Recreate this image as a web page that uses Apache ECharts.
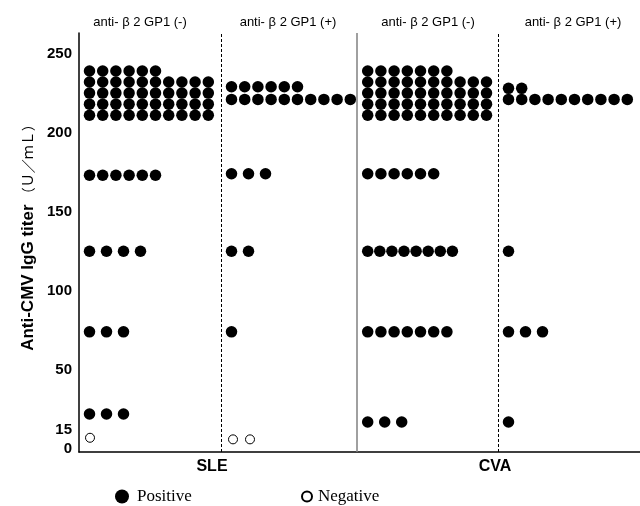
<!DOCTYPE html>
<html><head><meta charset="utf-8">
<script src="https://cdn.jsdelivr.net/npm/echarts@6/dist/echarts.min.js"></script>
<style>html,body{margin:0;padding:0;background:#fff}#c{width:640px;height:506px}</style>
</head><body><div id="c"></div>
<script>
// ---------- data ----------
const yTickValues = [0, 15, 50, 100, 150, 200, 250];
const diseaseLabels = ['SLE', 'CVA'];
const groupLabels = ['anti- β 2 GP1 (-)', 'anti- β 2 GP1 (+)', 'anti- β 2 GP1 (-)', 'anti- β 2 GP1 (+)'];
const legendLabels = ['Positive', 'Negative'];
const yTitle = 'Anti-CMV IgG titer';
const yUnit = '（Ｕ／ｍＬ）';

// positive patients: titer level of each row and number of dots in it
const sleB2negTiters = [239, 232, 225, 218, 211, 173, 125, 74, 22];
const sleB2negCounts = [6, 10, 10, 10, 10, 6, 4, 3, 3];
const sleB2posTiters = [229, 221, 174, 125, 74];
const sleB2posCounts = [6, 10, 3, 2, 1];
const cvaB2negTiters = [239, 232, 225, 218, 211, 174, 125, 74, 17];
const cvaB2negCounts = [7, 10, 10, 10, 10, 6, 8, 7, 3];
const cvaB2posTiters = [228, 221, 125, 74, 17];
const cvaB2posCounts = [2, 10, 1, 3, 1];

// negative patients
const sleB2negNegTiters = [7];
const sleB2negNegCounts = [1];
const sleB2posNegTiters = [6];
const sleB2posNegCounts = [2];

// ---------- layout ----------
const X_MAX = 561;
const groupStart = [10.5, 152.5, 288.7, 429.5];
const dividers = [142, 278, 419];
function stepFor(titer, count) {
  if (titer > 200) return 13.2;
  if (count >= 8) return 12.1;
  if (count >= 5) return 13.2;
  return 17;
}
function buildPoints(start, titers, counts) {
  const pts = [];
  titers.forEach((t, r) => {
    const n = counts[r];
    const s = stepFor(t, n);
    for (let i = 0; i < n; i++) pts.push([start + i * s, t]);
  });
  return pts;
}
const positivePts = [].concat(
  buildPoints(groupStart[0], sleB2negTiters, sleB2negCounts),
  buildPoints(groupStart[1], sleB2posTiters, sleB2posCounts),
  buildPoints(groupStart[2], cvaB2negTiters, cvaB2negCounts),
  buildPoints(groupStart[3], cvaB2posTiters, cvaB2posCounts)
);
const negativePts = [].concat(
  buildPoints(groupStart[0] + 0.5, sleB2negNegTiters, sleB2negNegCounts),
  buildPoints(groupStart[1] + 1.5, sleB2posNegTiters, sleB2posNegCounts)
);

const sans = "'Liberation Sans', Arial, sans-serif";
const serif = "'Liberation Serif', 'Times New Roman', serif";
const headerX = [140, 288, 428, 573];
const diseaseX = [212, 495];

const chart = echarts.init(document.getElementById('c'), null, {renderer: 'canvas'});
chart.setOption({
  animation: false,
  backgroundColor: '#fff',
  grid: {left: 79, right: 0, top: 33, bottom: 54},
  xAxis: {
    type: 'value', min: 0, max: X_MAX,
    axisLine: {show: true, onZero: false, lineStyle: {color: '#000', width: 1.5}},
    axisTick: {show: false}, axisLabel: {show: false}, splitLine: {show: false}
  },
  yAxis: {
    type: 'value', min: -2, max: 263,
    axisLine: {show: true, onZero: false, lineStyle: {color: '#000', width: 1.5}},
    axisTick: {show: false}, splitLine: {show: false},
    axisLabel: {
      customValues: yTickValues,
      color: '#000', fontFamily: sans, fontWeight: 'bold', fontSize: 15, margin: 7,
      formatter: v => v === 15 ? '{low|15}' : String(v),
      rich: {low: {fontFamily: sans, fontWeight: 'bold', fontSize: 15, color: '#000', padding: [9, 0, 0, 0]}}
    }
  },
  legend: [
    {data: [legendLabels[0]], left: 110, top: 483, icon: 'circle', itemWidth: 14, itemHeight: 14,
     selectedMode: false, textStyle: {fontFamily: serif, fontSize: 17, color: '#000', padding: [0, 0, 0, 3]}},
    {data: [legendLabels[1]], left: 296, top: 483, icon: 'circle', itemWidth: 10, itemHeight: 10,
     selectedMode: false, textStyle: {fontFamily: serif, fontSize: 17, color: '#000', padding: [0, 0, 0, 1]}}
  ],
  series: [
    {
      name: legendLabels[0], type: 'scatter', symbol: 'circle', symbolSize: 11.5,
      itemStyle: {color: '#000', opacity: 1}, data: positivePts, silent: true,
      markLine: {
        symbol: 'none', silent: true, label: {show: false},
        data: [
          {xAxis: dividers[0], lineStyle: {color: '#000', width: 1, type: [3, 2]}},
          {xAxis: dividers[1], lineStyle: {color: '#808080', width: 1.5, type: 'solid'}},
          {xAxis: dividers[2], lineStyle: {color: '#000', width: 1, type: [3, 2]}}
        ]
      }
    },
    {
      name: legendLabels[1], type: 'scatter', symbol: 'circle', symbolSize: 9,
      itemStyle: {color: '#fff', borderColor: '#000', borderWidth: 1, opacity: 1}, data: negativePts, silent: true
    }
  ],
  graphic: [].concat(
    groupLabels.map((t, i) => ({
      type: 'text', x: headerX[i], y: 22,
      style: {text: t, font: '13px ' + sans, fill: '#000', align: 'center', verticalAlign: 'middle'}
    })),
    diseaseLabels.map((t, i) => ({
      type: 'text', x: diseaseX[i], y: 467,
      style: {text: t, font: 'bold 16px ' + sans, fill: '#000', align: 'center', verticalAlign: 'middle'}
    })),
    [{
      type: 'text', x: 28, y: 234, rotation: Math.PI / 2,
      style: {
        text: '{b|' + yTitle + '} {u|' + yUnit + '}',
        align: 'center', verticalAlign: 'middle',
        rich: {
          b: {fontFamily: sans, fontWeight: 'bold', fontSize: 17, fill: '#000', color: '#000'},
          u: {fontFamily: "'Noto Sans CJK SC', sans-serif", fontSize: 14, color: '#000', fill: '#000'}
        }
      }
    }]
  )
});
</script>
</body></html>
